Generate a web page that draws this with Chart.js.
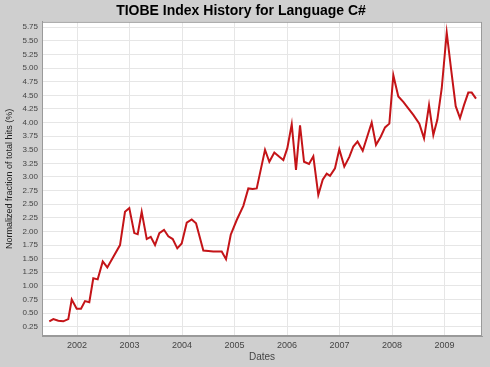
<!DOCTYPE html>
<html>
<head>
<meta charset="utf-8">
<script src="https://cdn.jsdelivr.net/npm/chart.js@4"></script>
<style>
    html, body { margin: 0; padding: 0; background: #cfcfcf; }
    canvas { display: block; }
</style>
</head>
<body>
<canvas id="tiobeChart" width="490" height="367"></canvas>
<script>
const years = [
    2001.472, 2001.549, 2001.644, 2001.739, 2001.834, 2001.899, 2001.994, 2002.076, 2002.152, 2002.234,
    2002.310, 2002.394, 2002.490, 2002.577, 2002.819, 2002.914, 2002.996, 2003.091, 2003.156, 2003.232,
    2003.328, 2003.404, 2003.486, 2003.568, 2003.657, 2003.739, 2003.823, 2003.910, 2003.994, 2004.090,
    2004.185, 2004.267, 2004.406, 2004.501, 2004.596, 2004.691, 2004.756, 2004.838, 2004.928, 2005.042,
    2005.168, 2005.263, 2005.347, 2005.423, 2005.581, 2005.663, 2005.758, 2005.853, 2005.930, 2006.006,
    2006.090, 2006.171, 2006.248, 2006.324, 2006.419, 2006.501, 2006.596, 2006.680, 2006.756, 2006.819,
    2006.914, 2006.996, 2007.091, 2007.187, 2007.263, 2007.343, 2007.442, 2007.613, 2007.695, 2007.785,
    2007.867, 2007.949, 2008.025, 2008.120, 2008.215, 2008.310, 2008.406, 2008.520, 2008.610, 2008.705,
    2008.787, 2008.863, 2008.947, 2009.042, 2009.124, 2009.213, 2009.295, 2009.371, 2009.453, 2009.518,
    2009.600,
]
const fractions = [
    0.35, 0.39, 0.36, 0.35, 0.39, 0.75, 0.58, 0.58, 0.72, 0.70,
    1.14, 1.12, 1.45, 1.34, 1.75, 2.36, 2.43, 1.97, 1.95, 2.36,
    1.86, 1.90, 1.75, 1.97, 2.03, 1.91, 1.86, 1.69, 1.78, 2.16,
    2.22, 2.15, 1.65, 1.64, 1.63, 1.63, 1.63, 1.49, 1.94, 2.21,
    2.47, 2.79, 2.78, 2.79, 3.50, 3.28, 3.45, 3.37, 3.31, 3.53,
    3.97, 3.13, 3.95, 3.28, 3.24, 3.38, 2.67, 2.95, 3.06, 3.02,
    3.16, 3.51, 3.19, 3.37, 3.56, 3.65, 3.48, 4.00, 3.59, 3.74,
    3.91, 3.98, 4.87, 4.48, 4.38, 4.26, 4.14, 3.98, 3.71, 4.32,
    3.77, 4.05, 4.63, 5.65, 4.99, 4.30, 4.08, 4.32, 4.55, 4.55,
    4.44,
]
const yearTicks = [2002, 2003, 2004, 2005, 2006, 2007, 2008, 2009]
const fractionTicks = [
    0.25, 0.50, 0.75, 1.00, 1.25, 1.50, 1.75, 2.00, 2.25, 2.50, 2.75, 3.00,
    3.25, 3.50, 3.75, 4.00, 4.25, 4.50, 4.75, 5.00, 5.25, 5.50, 5.75,
]

const tickColor = '#444444'
const gridColor = '#e6e6e6'

const plotBackground = {
    id: 'plotBackground',
    beforeDraw(chart) {
        const {ctx, chartArea, width, height} = chart
        ctx.save()
        ctx.fillStyle = '#cfcfcf'
        ctx.fillRect(0, 0, width, height)
        ctx.fillStyle = '#ffffff'
        ctx.fillRect(chartArea.left, chartArea.top, chartArea.right - chartArea.left, chartArea.bottom - chartArea.top)
        ctx.restore()
    },
    afterDraw(chart) {
        const {ctx, chartArea} = chart
        ctx.save()
        ctx.strokeStyle = '#9a9a9a'
        ctx.lineWidth = 1
        ctx.strokeRect(chartArea.left + 0.5, chartArea.top + 0.5, chartArea.right - chartArea.left - 1, chartArea.bottom - chartArea.top - 1)
        ctx.restore()
    },
}

new Chart(document.getElementById('tiobeChart').getContext('2d'), {
    type: 'line',
    plugins: [plotBackground],
    data: {
        datasets: [{
            label: 'C#',
            data: years.map((year, i) => ({x: year, y: fractions[i]})),
            borderColor: '#c41418',
            borderWidth: 2,
            pointRadius: 0,
            tension: 0,
            fill: false,
        }],
    },
    options: {
        responsive: false,
        animation: false,
        devicePixelRatio: 1,
        layout: {padding: {left: 0, right: 8, top: 0, bottom: 0}},
        plugins: {
            legend: {display: false},
            tooltip: {enabled: false},
            title: {
                display: true,
                text: 'TIOBE Index History for Language C#',
                color: '#000000',
                font: {family: 'Liberation Sans', size: 14, weight: 'bold'},
                padding: {top: 3, bottom: 2},
            },
        },
        scales: {
            x: {
                type: 'linear',
                min: 2001.333,
                max: 2009.714,
                afterBuildTicks: scale => { scale.ticks = yearTicks.map(value => ({value})) },
                afterFit: scale => { scale.height = 31 },
                ticks: {
                    color: tickColor,
                    font: {family: 'Liberation Sans', size: 9},
                    padding: 4,
                    autoSkip: false,
                    maxRotation: 0,
                    callback: value => String(value),
                },
                grid: {color: gridColor, drawTicks: false},
                border: {color: '#9a9a9a'},
                title: {
                    display: true,
                    text: 'Dates',
                    color: tickColor,
                    font: {family: 'Liberation Sans', size: 10},
                },
            },
            y: {
                min: 0.08,
                max: 5.85,
                afterBuildTicks: scale => { scale.ticks = fractionTicks.map(value => ({value})) },
                afterFit: scale => { scale.width = 42 },
                ticks: {
                    color: tickColor,
                    font: {family: 'Liberation Sans', size: 8},
                    padding: 4,
                    autoSkip: false,
                    callback: value => Number(value).toFixed(2),
                },
                grid: {color: gridColor, drawTicks: false},
                border: {color: '#9a9a9a'},
                title: {
                    display: true,
                    text: 'Normalized fraction of total hits (%)',
                    color: '#222222',
                    font: {family: 'Liberation Sans', size: 9},
                },
            },
        },
    },
})
</script>
</body>
</html>
